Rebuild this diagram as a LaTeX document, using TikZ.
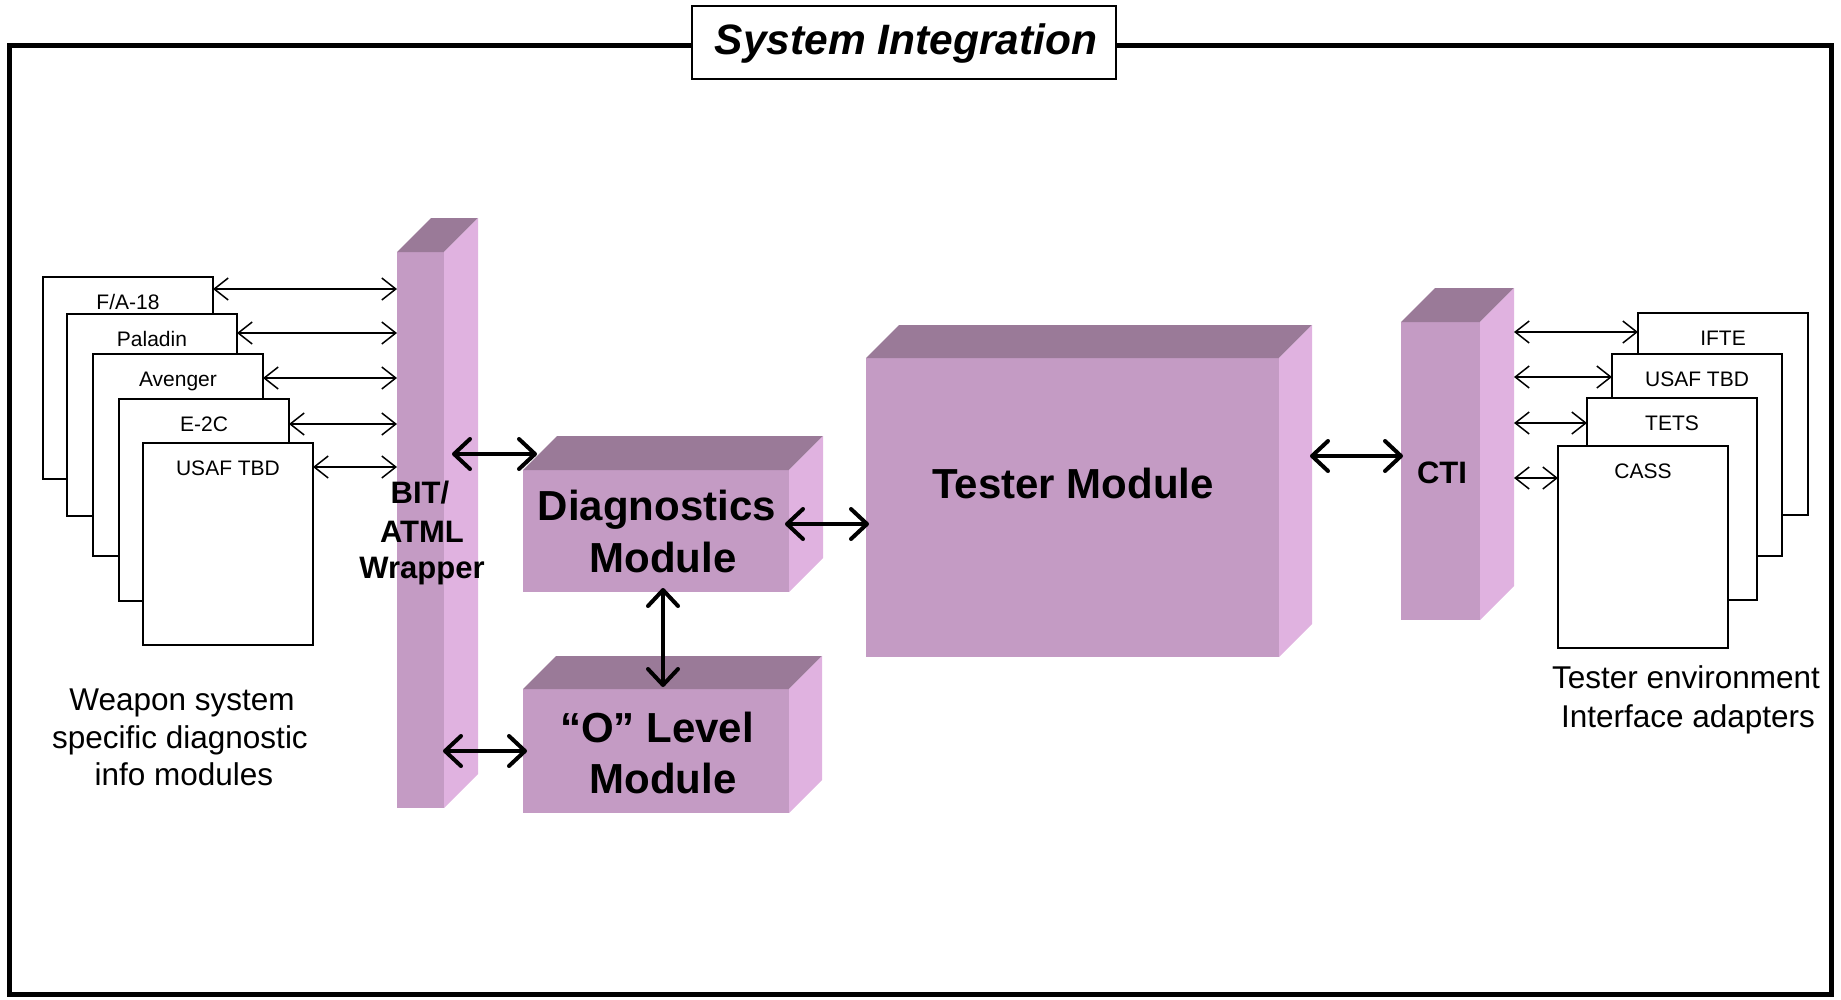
\documentclass[tikz,border=0pt]{standalone}
\usepackage{fontspec}
\setmainfont{Liberation Sans}
\usetikzlibrary{arrows.meta,fit}
\definecolor{facefront}{HTML}{C49BC4}
\definecolor{facetop}{HTML}{9A7A98}
\definecolor{faceside}{HTML}{E0B2E0}
\tikzset{
  frontface/.style={fill=facefront, draw=none, inner sep=0pt, outer sep=0pt},
  topface/.style={fill=facetop},
  sideface/.style={fill=faceside},
  docbox/.style={draw=black, line width=2pt, fill=white, minimum width=170pt, minimum height=202pt, anchor=north west, inner sep=0pt, outer sep=0pt},
  doclabel/.style={font=\fontsize{21}{25}\selectfont, anchor=base, inner sep=0pt},
  thinarrow/.style={line width=1.5pt, {Straight Barb[length=14pt,width=22pt]}-{Straight Barb[length=14pt,width=22pt]}},
  thickarrow/.style={line width=4pt, {Straight Barb[length=16pt,width=30pt,round]}-{Straight Barb[length=16pt,width=30pt,round]}},
  bigtext/.style={font=\fontsize{42}{50}\selectfont\bfseries, anchor=base, inner sep=0pt},
  midtext/.style={font=\fontsize{31}{38}\selectfont\bfseries, anchor=base, inner sep=0pt},
  captext/.style={font=\fontsize{31.5}{38}\selectfont, anchor=base, inner sep=0pt},
  titlebox/.style={draw=black, line width=2pt, fill=white, minimum width=424pt, minimum height=73pt, inner sep=0pt},
  titletext/.style={font=\fontsize{42.5}{50}\selectfont\bfseries\itshape, anchor=base, inner sep=0pt},
}
\newcommand\mkblock[6]{%
  \node[frontface, fit={(#2,#3) (#4,#5)}] (#1) {};
  \fill[topface] (#1.north west) -- ++(#6,-#6) -- ([shift={(#6,-#6)}]#1.north east) -- (#1.north east) -- cycle;
  \fill[sideface] (#1.north east) -- ([shift={(#6,-#6)}]#1.north east) -- ([shift={(#6,-#6)}]#1.south east) -- (#1.south east) -- cycle;
}
\begin{document}
\begin{tikzpicture}[x=1pt,y=-1pt]
\useasboundingbox (0,0) rectangle (1841,999);
% outer frame and title
\draw[line width=5pt] (9.5,45) rectangle (1831.5,994);
\node[titlebox] (title) at (904,42.5) {};
\node[titletext] (titlelbl) at (906,54) {System Integration};

% left document stack
\node[docbox] (fa) at (43,277) {};
\node[doclabel] (falbl) at ([yshift=-32pt]fa.north) {F/A-18};
\node[docbox] (pal) at (67,314) {};
\node[doclabel] (pallbl) at ([yshift=-32pt]pal.north) {Paladin};
\node[docbox] (ave) at (93,354) {};
\node[doclabel] (avelbl) at ([yshift=-32pt]ave.north) {Avenger};
\node[docbox] (etc) at (119,399) {};
\node[doclabel] (etclbl) at ([yshift=-32pt]etc.north) {E-2C};
\node[docbox] (usafl) at (143,443) {};
\node[doclabel] (usafllbl) at ([yshift=-32pt]usafl.north) {USAF TBD};

% right document stack
\node[docbox] (ifte) at (1638,313) {};
\node[doclabel] (iftelbl) at ([yshift=-32pt]ifte.north) {IFTE};
\node[docbox] (usafr) at (1612,354) {};
\node[doclabel] (usafrlbl) at ([yshift=-32pt]usafr.north) {USAF TBD};
\node[docbox] (tets) at (1587,398) {};
\node[doclabel] (tetslbl) at ([yshift=-32pt]tets.north) {TETS};
\node[docbox] (cass) at (1558,446) {};
\node[doclabel] (casslbl) at ([yshift=-32pt]cass.north) {CASS};

% 3D blocks
\mkblock{bit}{397}{252}{444}{808}{34}
\mkblock{diag}{523}{470}{789}{592}{34}
\mkblock{olvl}{523}{689}{789}{813}{33}
\mkblock{tester}{866}{358}{1279}{657}{33}
\mkblock{cti}{1401}{322}{1480}{620}{34}

% block texts
\node[midtext] (bit1) at (420,503) {BIT/};
\node[midtext] (bit2) at (422,542) {ATML};
\node[midtext] (bit3) at (422,578) {Wrapper};
\node[bigtext] (diag1) at (657,520) {Diagnostics};
\node[bigtext] (diag2) at (663,572) {Module};
\node[bigtext] (olvl1) at (657,742) {``O'' Level};
\node[bigtext] (olvl2) at (663,793) {Module};
\node[bigtext] (testerlbl) at (1073,498) {Tester Module};
\node[midtext] (ctilbl) at (1442,483) {CTI};

% captions
\node[captext] (capl1) at (182,710) {Weapon system};
\node[captext] (capl2) at (180,748) {specific diagnostic};
\node[captext] (capl3) at (184,785) {info modules};
\node[captext] (capr1) at (1686,688) {Tester environment};
\node[captext] (capr2) at (1688,727) {Interface adapters};

% left thin arrows
\coordinate (l1) at ([yshift=-12pt]fa.north east);
\coordinate (l2) at ([yshift=-19pt]pal.north east);
\coordinate (l3) at ([yshift=-24pt]ave.north east);
\coordinate (l4) at ([yshift=-25pt]etc.north east);
\coordinate (l5) at ([yshift=-24pt]usafl.north east);
\foreach \c in {l1,l2,l3,l4,l5}{
  \draw[thinarrow] (\c) -- (bit.west |- \c);
}

% right thin arrows
\coordinate (ctir) at ([xshift=34pt]cti.east);
\coordinate (r1) at ([yshift=-19pt]ifte.north west);
\coordinate (r2) at ([yshift=-23pt]usafr.north west);
\coordinate (r3) at ([yshift=-25pt]tets.north west);
\coordinate (r4) at ([yshift=-32pt]cass.north west);
\foreach \c in {r1,r2,r3,r4}{
  \draw[thinarrow] (ctir |- \c) -- (\c);
}

% thick arrows
\coordinate (bd1) at (452,454);
\coordinate (bd2) at (537,454);
\coordinate (bo1) at (443,751);
\coordinate (bo2) at (527,751);
\coordinate (dt1) at (785,524);
\coordinate (dt2) at (869,524);
\coordinate (do1) at (663,588);
\coordinate (do2) at (663,687);
\coordinate (tc1) at (1310,456);
\coordinate (tc2) at (1403,456);
\draw[thickarrow] (bd1) -- (bd2);
\draw[thickarrow] (bo1) -- (bo2);
\draw[thickarrow] (dt1) -- (dt2);
\draw[thickarrow] (do1) -- (do2);
\draw[thickarrow] (tc1) -- (tc2);
\end{tikzpicture}
\end{document}
